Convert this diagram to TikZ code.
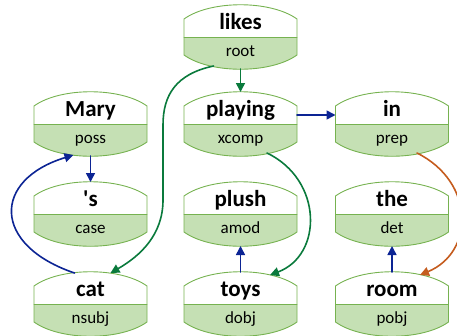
\documentclass[tikz,border=0pt]{standalone}
\usepackage{fontspec}
\setmainfont{Carlito}
\usetikzlibrary{arrows.meta}
\definecolor{boxgreen}{RGB}{197,224,180}
\definecolor{edgegreen}{RGB}{118,178,80}
\definecolor{arcgreen}{RGB}{10,122,60}
\definecolor{arcblue}{RGB}{12,36,148}
\definecolor{arcorange}{RGB}{197,92,30}
\tikzset{
	word/.style={anchor=base, inner sep=0pt, font=\bfseries\fontsize{23}{23}\selectfont},
	lab/.style={anchor=base, inner sep=0pt, font=\fontsize{17}{17}\selectfont},
	boxedge/.style={draw=edgegreen, line width=.9pt},
	dep/.style={line width=1.6pt, -{Triangle[length=9pt,width=9pt]}}
}
\begin{document}
\begin{tikzpicture}[x=1pt, y=-1pt, line join=round, line cap=round]
	\useasboundingbox (0,0) rectangle (457,335);
	\foreach \n/\x/\y/\w/\l in {likes/240.5/37/likes/root, mary/90.5/124/Mary/poss, playing/240.5/124/playing/xcomp,
		in/392/124/in/prep, s/90.5/214/{\textquotesingle s}/case, plush/240.5/214/plush/amod, the/392/214/the/det,
		cat/90.5/304/cat/nsubj, toys/240.5/304/toys/dobj, room/392/304/room/pobj}{
		\begin{scope}[shift={(\x,\y)}]
			\fill[boxgreen] (-56.5,0)--(-56.5,18) .. controls (-30,37) and (30,37) .. (56.5,18)--(56.5,0)--cycle;
			\draw[boxedge] (-56.5,18)--(-56.5,-18) .. controls (-30,-37) and (30,-37) .. (56.5,-18)--(56.5,18)
				.. controls (30,37) and (-30,37) .. (-56.5,18)--cycle;
			\draw[boxedge] (-56.5,0)--(56.5,0);
			\node[word] (\n) at (0,-8) {\w};
			\node[lab] (\n-l) at (0,19) {\l};
			\coordinate (\n-n) at (0,-32); \coordinate (\n-s) at (0,32);
			\coordinate (\n-e) at (56.5,-9); \coordinate (\n-w) at (-56.5,-9);
		\end{scope}
	}
	\draw[dep, arcgreen] (likes-s)--(playing-n);
	\draw[dep, arcgreen] ([shift={(-27,-3)}]likes-s) .. controls (176,74) and (163,95) .. (163,125) -- (163,200)
		.. controls (163,235) and (140,256) .. ([shift={(20,1)}]cat-n);
	\draw[dep, arcblue] ([shift={(-16,1)}]cat-n) .. controls (-8,245) and (-8,180) .. ([shift={(-17,-1)}]mary-s);
	\draw[dep, arcblue] (mary-s)--(s-n);
	\draw[dep, arcblue] (playing-e)--(in-w);
	\draw[dep, arcgreen] ([shift={(26.5,-3)}]playing-s) .. controls (323,180) and (323,255) .. ([shift={(29.5,3)}]toys-n);
	\draw[dep, arcblue] (toys-n)--(plush-s);
	\draw[dep, arcorange] ([shift={(25,-3)}]in-s) .. controls (475,182) and (475,252) .. ([shift={(28,3)}]room-n);
	\draw[dep, arcblue] (room-n)--(the-s);
\end{tikzpicture}
\end{document}
